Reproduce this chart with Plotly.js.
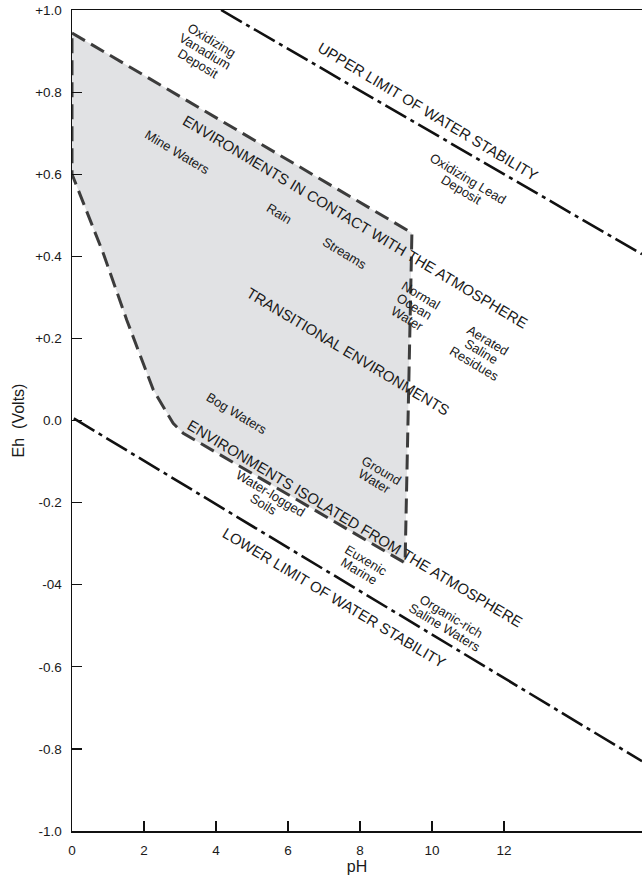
<!DOCTYPE html>
<html>
<head>
<meta charset="utf-8">
<script src="https://cdn.plot.ly/plotly-3.0.1.min.js"></script>
<style>
  html, body { margin: 0; padding: 0; background: #fff; }
  #chart { width: 642px; height: 879px; }
</style>
</head>
<body>
<div id="chart"></div>
<script>
// ---- data ----
const xTickVals = [0, 2, 4, 6, 8, 10, 12];
const xTickText = ["0", "2", "4", "6", "8", "10", "12"];
const yTickVals = [1.0, 0.8, 0.6, 0.4, 0.2, 0.0, -0.2, -0.4, -0.6, -0.8, -1.0];
const yTickText = ["+1.0", "+0.8", "+0.6", "+0.4", "+0.2", "0.0", "-0.2", "-04", "-0.6", "-0.8", "-1.0"];

// Upper / lower limits of water stability (pH, Eh)
const upperPH = [4.14, 15.83];
const upperEh = [1.0, 0.405];
const lowerPH = [0.05, 15.83];
const lowerEh = [0.005, -0.83];

// Natural environments field (pH, Eh)
const fieldPH = [0, 9.44, 9.25, 3.09, 2.81, 2.54, 2.26, 1.52, 0.87, 0, 0];
const fieldEh = [0.944, 0.457, -0.347, -0.031, -0.007, 0.034, 0.074, 0.245, 0.407, 0.6, 0.944];

// Labels: text lines, pH, Eh, kind
const labelLines = [
  ["Oxidizing", "Vanadium", "Deposit"],
  ["UPPER LIMIT OF WATER STABILITY"],
  ["Oxidizing Lead", "Deposit"],
  ["ENVIRONMENTS IN CONTACT WITH THE ATMOSPHERE"],
  ["Mine Waters"],
  ["Rain"],
  ["Streams"],
  ["Normal", "Ocean", "Water"],
  ["Aerated", "Saline", "Residues"],
  ["TRANSITIONAL ENVIRONMENTS"],
  ["Bog Waters"],
  ["ENVIRONMENTS ISOLATED FROM THE ATMOSPHERE"],
  ["Ground", "Water"],
  ["Water-logged", "Soils"],
  ["Euxenic", "Marine"],
  ["LOWER LIMIT OF WATER STABILITY"],
  ["Organic-rich", "Saline Waters"]
];
const labelPH = [3.69, 9.89, 10.89, 7.86, 2.94, 5.75, 7.58, 9.5, 11.36, 7.67, 4.58, 7.86, 8.5, 5.42, 8.08, 7.28, 10.44];
const labelEh = [0.898, 0.752, 0.576, 0.485, 0.654, 0.505, 0.406, 0.277, 0.167, 0.167, 0.018, -0.252, -0.135, -0.191, -0.354, -0.430, -0.491];
const labelBig = [false, true, false, true, false, false, false, false, false, true, false, true, false, false, false, true, false];

// ---- styles ----
const FONT = "Liberation Sans, Arial, Helvetica, sans-serif";
const ANGLE = 31;
const BIG = 15, SMALL = 13;
const LINE_GAP = 13.5;

const traces = [
  {
    x: fieldPH, y: fieldEh, type: "scatter", mode: "lines",
    fill: "toself", fillcolor: "#e1e2e4",
    line: { color: "#3c3c3c", width: 3, dash: "15px,7px" },
    hoverinfo: "skip", showlegend: false
  },
  {
    x: upperPH, y: upperEh, type: "scatter", mode: "lines",
    line: { color: "#111", width: 2.6, dash: "24px,5px,4px,5px" },
    hoverinfo: "skip", showlegend: false
  },
  {
    x: lowerPH, y: lowerEh, type: "scatter", mode: "lines",
    line: { color: "#111", width: 2.6, dash: "24px,5px,4px,5px" },
    hoverinfo: "skip", showlegend: false
  }
];

const annotations = [];
const rad = ANGLE * Math.PI / 180;
labelLines.forEach((lines, i) => {
  const n = lines.length;
  const size = labelBig[i] ? BIG : SMALL;
  lines.forEach((t, j) => {
    const d = (j - (n - 1) / 2) * LINE_GAP;
    annotations.push({
      x: labelPH[i], y: labelEh[i], xref: "x", yref: "y",
      text: t, showarrow: false, textangle: ANGLE,
      xshift: -d * Math.sin(rad), yshift: -d * Math.cos(rad),
      font: { family: FONT, size: size, color: "#1a1a1a" },
      xanchor: "center", yanchor: "middle"
    });
  });
});

const layout = {
  width: 642, height: 879,
  margin: { l: 72, r: 0, t: 10, b: 48 },
  paper_bgcolor: "#fff", plot_bgcolor: "#fff",
  showlegend: false,
  font: { family: FONT, color: "#1a1a1a" },
  xaxis: {
    range: [0, 15.83], showgrid: false, zeroline: false,
    showline: true, mirror: true, linecolor: "#111", linewidth: 1.5,
    ticks: "inside", ticklen: 10, tickwidth: 1.2, tickcolor: "#111",
    tickvals: xTickVals, ticktext: xTickText,
    tickfont: { family: FONT, size: 13.5, color: "#1a1a1a" },
    ticklabelstandoff: 6,
    title: { text: "pH", font: { family: FONT, size: 16, color: "#1a1a1a" }, standoff: 4 }
  },
  yaxis: {
    range: [-1, 1], showgrid: false, zeroline: false,
    showline: true, linecolor: "#111", linewidth: 1.5,
    ticks: "inside", ticklen: 10, tickwidth: 1.2, tickcolor: "#111",
    tickvals: yTickVals, ticktext: yTickText,
    tickfont: { family: FONT, size: 13.5, color: "#1a1a1a" },
    ticklabelstandoff: 6,
    title: { text: "Eh\u00a0\u00a0(Volts)", font: { family: FONT, size: 16, color: "#1a1a1a" }, standoff: 6 }
  },
  annotations: annotations
};

Plotly.newPlot("chart", traces, layout, { displayModeBar: false, staticPlot: true });
</script>
</body>
</html>
